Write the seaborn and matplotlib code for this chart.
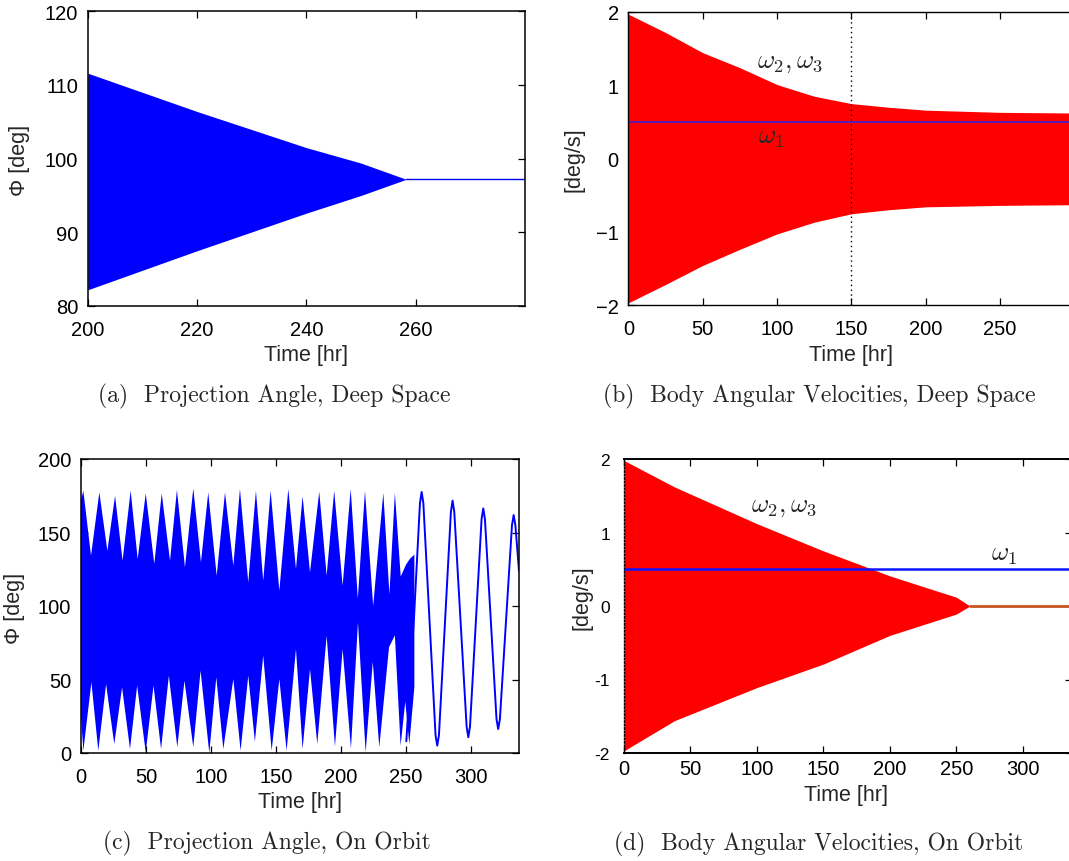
import numpy as np
import pandas as pd
import matplotlib
matplotlib.use("Agg")
import matplotlib.pyplot as plt
import seaborn as sns

# ------------------------------------------------------------------ data
# (a) projection angle, deep space: envelope of the fast oscillation [deg]
a_time = [200, 220, 240, 250, 258.3]
a_upper = [111.6, 106.4, 101.5, 99.4, 97.2]
a_lower = [82.2, 87.5, 92.6, 95.0, 97.2]
a_settle_time = [258.3, 280]
a_settle_phi = [97.2, 97.2]

# (b) body angular velocities, deep space [deg/s]
b_time = [0, 25, 50, 75, 100, 125, 150, 175, 200, 250, 305]
b_upper = [1.97, 1.72, 1.445, 1.24, 1.01, 0.85, 0.75, 0.70, 0.66, 0.63, 0.62]
b_lower = [-1.97, -1.72, -1.46, -1.24, -1.03, -0.87, -0.755, -0.70, -0.66, -0.64, -0.63]
b_w1_time = [0, 305]
b_w1 = [0.5, 0.5]
b_marker_time = 150

# (c) projection angle, on orbit [deg]
c_up_time = [0.0, 1.8, 7.7, 14.1, 20.3, 26.2, 32.0, 38.2, 43.6, 49.8, 56.4, 62.1,
             68.5, 73.8, 80.0, 86.4, 92.3, 97.9, 104.4, 110.8, 117.2, 122.3, 128.7,
             134.6, 140.2, 145.9, 152.6, 159.5, 165.4, 170.5, 176.2, 183.3, 189.0,
             194.8, 201.3, 207.5, 213.0, 218.5, 224.8, 232.6, 237.3, 241.5, 246.0,
             250.0, 253.0, 256.5]
c_up_phi = [172, 178.4, 134.2, 177.3, 137.6, 175.0, 130.8, 178.4, 132.0, 176.6, 128.6,
            176.6, 130.8, 179.0, 126.3, 180.0, 129.7, 177.3, 120.6, 177.3, 127.4, 179.6,
            116.1, 178.4, 117.2, 178.4, 110.4, 179.6, 125.2, 174.6, 122.9, 177.8, 120.6,
            178.4, 113.8, 179.6, 105.0, 178.4, 100.0, 177.0, 108.0, 177.0, 120.0, 128.0,
            132.0, 135.0]
c_lo_time = [0.0, 1.8, 8.0, 13.3, 19.3, 25.6, 31.6, 37.7, 43.2, 49.8, 55.8, 61.6, 67.6,
             74.1, 79.6, 86.4, 92.0, 98.7, 104.1, 109.5, 117.2, 122.8, 128.7, 133.8,
             140.2, 146.7, 152.6, 158.2, 165.4, 170.5, 176.2, 181.8, 189.0, 195.4,
             201.3, 207.7, 213.1, 219.0, 224.5, 229.5, 237.0, 241.5, 245.9, 249.5,
             252.6, 256.5]
c_lo_phi = [25, 1.6, 48.1, 1.6, 46.9, 6.1, 44.7, 2.7, 45.8, 0.5, 45.8, 2.7, 52.6, 3.9,
            49.2, 3.9, 56.0, 0.0, 51.5, 2.7, 50.3, 1.6, 52.6, 7.7, 66.2, 1.6, 50.3, 1.6,
            70.7, 2.7, 57.1, 6.1, 79.8, 4.4, 70.7, 3.0, 88.9, 0.5, 62.0, 3.9, 72.0, 80.0,
            5.0, 35.0, 6.0, 45.0]
c_slow_time = [250.3, 256.2, 260.8, 262.1, 263.4, 272.8, 274.1, 275.4, 284.6, 285.9,
               287.2, 296.7, 298.0, 299.3, 308.2, 309.5, 310.8, 319.7, 321.0, 322.3,
               331.6, 332.9, 334.2, 337.0]
c_slow_phi = [8, 92, 170, 177.6, 170, 12, 5, 12, 164, 171.7, 164, 18, 10.7, 18, 159,
              166.4, 159, 23, 16.3, 23, 155, 161.9, 155, 124]

# (d) body angular velocities, on orbit [deg/s]
d_time = [0, 38, 100, 150, 200, 250, 260.3]
d_upper = [1.98, 1.62, 1.12, 0.75, 0.41, 0.12, 0.0]
d_lower = [-1.97, -1.56, -1.11, -0.79, -0.40, -0.11, 0.0]
d_settle_time = [260.3, 337]
d_settle = [0.0, 0.0]
d_w1_time = [0, 337]
d_w1 = [0.505, 0.505]

captions = ["(a)  Projection Angle, Deep Space",
            "(b)  Body Angular Velocities, Deep Space",
            "(c)  Projection Angle, On Orbit",
            "(d)  Body Angular Velocities, On Orbit"]

# ------------------------------------------------------------------ style
sns.set_style("white")
plt.rcParams["font.family"] = ["Liberation Sans", "DejaVu Sans"]
plt.rcParams["mathtext.fontset"] = "cm"
plt.rcParams["axes.unicode_minus"] = True

W, H = 1069, 862
fig = plt.figure(figsize=(W / 100, H / 100), dpi=100)

TICK = 14.5
LAB = 15.5
CAP = 17
OMEGA = 19


def rect(l, r, t, b):
    return [l / W, 1 - b / H, (r - l) / W, (b - t) / H]


def style(ax, lw=1.1):
    for s in ax.spines.values():
        s.set_visible(True)
        s.set_color("black")
        s.set_linewidth(lw)
    ax.tick_params(direction="in", top=True, right=True, bottom=True, left=True,
                   length=5, width=0.9, labelsize=TICK, colors="black", pad=7)
    ax.tick_params(axis="x", pad=10)
    ax.grid(False)


def line(ax, x, y, **kw):
    sns.lineplot(x=x, y=y, ax=ax, sort=False, estimator=None, legend=False, **kw)


def figtext(x, y, s, **kw):
    fig.text(x / W, 1 - y / H, s, ha="center", va="center", **kw)


# ---------------- (a)
ax = fig.add_axes(rect(87.8, 524.8, 12.3, 307))
ax.fill_between(a_time, a_lower, a_upper, color="#0000ff", lw=0)
line(ax, a_settle_time, a_settle_phi, color="#0000ff", lw=1.0)
ax.set_xlim(200, 280)
ax.set_ylim(80, 120)
ax.set_xticks([200, 220, 240, 260])
ax.set_yticks([80, 90, 100, 110, 120])
style(ax)
ax.set_xlabel("")
ax.set_ylabel("")
figtext(306, 356, "Time [hr]", fontsize=LAB)
figtext(19, 160.5, "Φ [deg]", fontsize=LAB, rotation=90)
figtext(273.7, 396.7, captions[0], fontsize=CAP, family="cmr10")

# ---------------- (b)
ax = fig.add_axes(rect(628.4, 628.4 + 305 * 1.4857, 13, 306))
ax.fill_between(b_time, b_lower, b_upper, color="#ff0000", lw=0)
line(ax, b_w1_time, b_w1, color="#4a1fc0", lw=1.3)
ax.axvline(b_marker_time, color="black", lw=1.0, ls=(0, (1, 2.5)))
ax.set_xlim(0, 305)
ax.set_ylim(-2, 2)
ax.set_xticks([0, 50, 100, 150, 200, 250])
ax.set_yticks([-2, -1, 0, 1, 2])
style(ax, lw=1.0)
ax.set_xlabel("")
ax.set_ylabel("")
ax.text(108.5, 1.32, r"$\omega_2, \omega_3$", fontsize=OMEGA, ha="center", va="center")
ax.text(96, 0.29, r"$\omega_1$", fontsize=OMEGA, ha="center", va="center")
figtext(851, 356, "Time [hr]", fontsize=LAB)
figtext(573.7, 159.2, "[deg/s]", fontsize=LAB, rotation=90)
figtext(819.6, 396.7, captions[1], fontsize=CAP, family="cmr10")

# ---------------- (c)
ax = fig.add_axes(rect(81, 519, 460, 754))
ax.fill(list(c_up_time) + list(c_lo_time)[::-1],
        list(c_up_phi) + list(c_lo_phi)[::-1], color="#0000ff", lw=0)
line(ax, c_slow_time, c_slow_phi, color="#0000ff", lw=1.4)
ax.set_xlim(0, 337)
ax.set_ylim(0, 200)
ax.set_xticks([0, 50, 100, 150, 200, 250, 300])
ax.set_yticks([0, 50, 100, 150, 200])
style(ax)
ax.set_xlabel("")
ax.set_ylabel("")
figtext(299.6, 802.7, "Time [hr]", fontsize=LAB)
figtext(14.5, 608.3, "Φ [deg]", fontsize=LAB, rotation=90)
figtext(267, 843, captions[2], fontsize=CAP, family="cmr10")

# ---------------- (d)
ax = fig.add_axes(rect(624, 624 + 337 * 1.329, 460, 754))
ax.fill_between(d_time, d_lower, d_upper, color="#ff0000", lw=0)
line(ax, d_w1_time, d_w1, color="#0a14ff", lw=1.8)
line(ax, d_settle_time, d_settle, color="#c8541e", lw=2.0)
ax.set_xlim(0, 337)
ax.set_ylim(-2, 2)
ax.set_xticks([0, 50, 100, 150, 200, 250, 300])
ax.set_yticks([-2, -1, 0, 1, 2])
ax.set_yticklabels(["-2", "-1", "0", "1", "2"])
style(ax, lw=1.4)
ax.spines["left"].set_linewidth(1.0)
ax.spines["left"].set_linestyle((0, (1, 1.5)))
ax.tick_params(axis="y", left=False, labelsize=12.5, pad=10)
ax.tick_params(axis="x", pad=4)
ax.set_xlabel("")
ax.set_ylabel("")
ax.text(120.6, 1.36, r"$\omega_2, \omega_3$", fontsize=OMEGA, ha="center", va="center")
ax.text(286.3, 0.71, r"$\omega_1$", fontsize=OMEGA, ha="center", va="center")
figtext(846, 795.7, "Time [hr]", fontsize=LAB)
figtext(581.7, 597.5, "[deg/s]", fontsize=LAB, rotation=90)
figtext(818.8, 844, captions[3], fontsize=CAP, family="cmr10")

fig.savefig("out.png", dpi=100)
